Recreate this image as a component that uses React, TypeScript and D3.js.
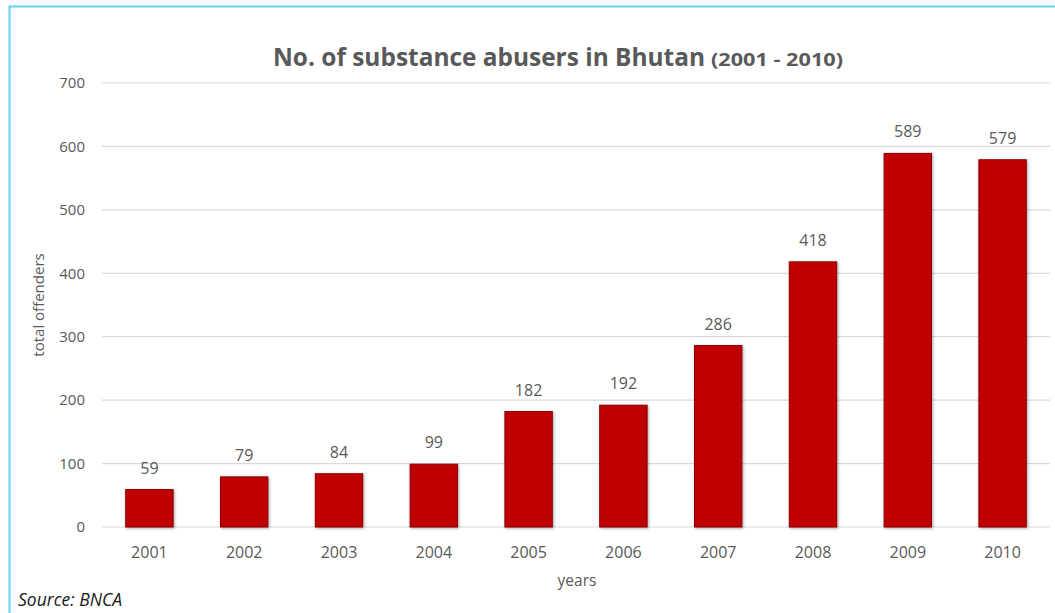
import React from "react";
import * as d3 from "d3";

const years = ["2001", "2002", "2003", "2004", "2005", "2006", "2007", "2008", "2009", "2010"];
const offenders = [59, 79, 84, 99, 182, 192, 286, 418, 589, 579];
const yTicks = [0, 100, 200, 300, 400, 500, 600, 700];

const W = 1055;
const H = 613;
const FONT = "'Open Sans', 'Liberation Sans', sans-serif";
const TXT = "#595959";

export default function App() {
  const x = d3.scaleBand<string>().domain(years).range([102, 1050]).paddingInner(0.5).paddingOuter(0.25);
  const y = d3.scaleLinear().domain([0, 700]).range([527, 83]);
  const bw = x.bandwidth();
  return (
    <svg width={W} height={H} style={{ position: "absolute", left: 0, top: 0, display: "block" }}>
      <defs>
        <filter id="sh" x="-20%" y="-20%" width="140%" height="140%">
          <feDropShadow dx="1" dy="1" stdDeviation="1.5" floodColor="#000" floodOpacity="0.35" />
        </filter>
      </defs>
      <rect x={0} y={0} width={W} height={H} fill="#fff" />
      <rect x={9.5} y={6.5} width={W + 10} height={H + 10} fill="none" stroke="#5fd3f7" strokeWidth={2} />
      <text x={273} y={66} fontFamily={FONT} fontWeight="bold" fontSize={24.4} fill={TXT}>
        <tspan textLength={432} lengthAdjust="spacingAndGlyphs">No. of substance abusers in Bhutan</tspan>
        <tspan x={711} fontSize={18.5} textLength={132} lengthAdjust="spacingAndGlyphs">(2001 - 2010)</tspan>
      </text>
      {yTicks.map((t) => (
        <g key={t}>
          <line x1={102} x2={1050} y1={y(t)} y2={y(t)} stroke="#d9d9d9" strokeWidth={1.2} />
          <text x={85} y={y(t)} dy="0.35em" textAnchor="end" fontFamily={FONT} fontSize={15} fill={TXT}>
            {t}
          </text>
        </g>
      ))}
      {years.map((yr, i) => (
        <g key={yr}>
          <rect
            x={x(yr)!}
            y={y(offenders[i])}
            width={bw}
            height={y(0) - y(offenders[i])}
            fill="#c00000"
            stroke="#8a0000"
            strokeWidth={1}
            filter="url(#sh)"
          />
          <text x={x(yr)! + bw / 2} y={y(offenders[i]) - 16} textAnchor="middle" fontFamily={FONT} fontSize={16} fill={TXT}>
            {offenders[i]}
          </text>
          <text x={x(yr)! + bw / 2} y={558} textAnchor="middle" fontFamily={FONT} fontSize={16} fill={TXT}>
            {yr}
          </text>
        </g>
      ))}
      <text x={577} y={586} textAnchor="middle" fontFamily={FONT} fontSize={15.5} fill={TXT}>
        years
      </text>
      <text transform={`translate(44,305) rotate(-90)`} textAnchor="middle" fontFamily={FONT} fontSize={15} fill={TXT}>
        total offenders
      </text>
      <text x={18} y={606} fontFamily={FONT} fontStyle="italic" fontSize={17.5} fill="#1a1a1a">
        Source: BNCA
      </text>
    </svg>
  );
}
